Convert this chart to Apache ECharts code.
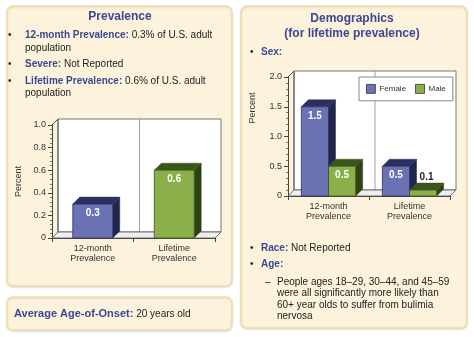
<!DOCTYPE html>
<html><head><meta charset="utf-8">
<script src="https://cdn.jsdelivr.net/npm/echarts@6/dist/echarts.min.js"></script>
<style>html,body{margin:0;padding:0;background:#fff}#c{width:474px;height:337px}</style>
</head><body><div id="c"></div>
<script>
// ---- data ----
const prevCategories = ['12-month\nPrevalence', 'Lifetime\nPrevalence'];
const prevValues = [0.3, 0.6];
const prevYTicks = ['0', '0.2', '0.4', '0.6', '0.8', '1.0'];

const sexCategories = ['12-month\nPrevalence', 'Lifetime\nPrevalence'];
const sexSeriesNames = ['Female', 'Male'];
const femaleValues = [1.5, 0.5];
const maleValues = [0.5, 0.1];
const sexYTicks = ['0', '0.5', '1.0', '1.5', '2.0'];

// ---- styles ----
const FONT = '"Liberation Sans", Arial, Helvetica, sans-serif';
const TITLE_C = '#3c4791';
const TEXT_C = '#222';
const BLUE = {front: '#6a72b3', top: '#2c305f', side: '#22264c'};
const GREEN = {front: '#8bb04b', top: '#3b561c', side: '#2c4314'};

function fmt(v) { return v === 0 ? '0' : v.toFixed(1); }

function frameRender(params, api) {
  const cs = params.coordSys;
  const x = cs.x, y = cs.y, w = cs.width, h = cs.height, D = 6;
  return {type: 'group', children: [
    {type: 'rect', shape: {x: x + D, y: y - D, width: w, height: h}, style: {fill: '#fff', stroke: '#555', lineWidth: 0.8}},
    {type: 'line', shape: {x1: x + D, y1: y - D, x2: x + D, y2: y + h - D}, style: {stroke: '#8a8a8a', lineWidth: 2}},
    {type: 'line', shape: {x1: x, y1: y, x2: x + D, y2: y - D}, style: {stroke: '#444', lineWidth: 1}},
    {type: 'line', shape: {x1: x + D + w / 2, y1: y - D, x2: x + D + w / 2, y2: y + h - D}, style: {stroke: '#888', lineWidth: 0.8}},
    {type: 'polygon', shape: {points: [[x, y + h], [x + D, y + h - D], [x + w + D, y + h - D], [x + w, y + h]]}, style: {fill: '#eeeeee', stroke: '#555', lineWidth: 0.8}}
  ]};
}

function makeBarRender(ratio, offsetFactor, colors) {
  return function (params, api) {
    const cat = api.value(0), val = api.value(1);
    const top = api.coord([cat, val]);
    const base = api.coord([cat, 0]);
    const band = api.size([1, 0])[0];
    const bw = band * ratio;
    const cx = top[0] + offsetFactor * bw;
    const x0 = cx - bw / 2, x1 = cx + bw / 2, yT = top[1], yB = base[1];
    const D = 7;
    const inside = yB - yT > 20;
    return {type: 'group', children: [
      {type: 'polygon', shape: {points: [[x1, yT], [x1 + D, yT - D], [x1 + D, yB - D], [x1, yB]]}, style: {fill: colors.side, stroke: colors.side, lineWidth: 0.5}},
      {type: 'polygon', shape: {points: [[x0, yT], [x0 + D, yT - D], [x1 + D, yT - D], [x1, yT]]}, style: {fill: colors.top, stroke: colors.top, lineWidth: 0.5}},
      {type: 'rect', shape: {x: x0, y: yT, width: bw, height: yB - yT}, style: {fill: colors.front, stroke: colors.top, lineWidth: 0.8}},
      {type: 'text', style: {text: fmt(val), x: cx + (inside ? 0 : D / 2), y: inside ? yT + 9 : yT - 13,
        align: 'center', verticalAlign: 'middle', fill: inside ? '#fff' : '#222',
        fontSize: 10, fontWeight: 'bold', fontFamily: FONT}}
    ]};
  };
}

function yAxisCfg(grid, max, interval, ticks, name) {
  return {
    type: 'value', gridIndex: grid, min: 0, max: max, interval: interval,
    name: name, nameLocation: 'middle', nameGap: 29, nameRotate: 90,
    nameTextStyle: {fontSize: 9, color: '#333', fontFamily: FONT},
    axisLine: {show: true, lineStyle: {color: '#444', width: 1}},
    axisTick: {show: true, length: 4, lineStyle: {color: '#444'}},
    minorTick: {show: true, splitNumber: 5, length: 2, lineStyle: {color: '#777'}},
    splitLine: {show: false},
    axisLabel: {fontSize: 9, color: '#333', fontFamily: FONT, margin: 6,
      formatter: function (v) { return ticks[Math.round(v / interval)]; }}
  };
}

function xAxisCfg(grid, cats) {
  return {
    type: 'category', gridIndex: grid, data: cats,
    axisLine: {show: true, lineStyle: {color: '#444', width: 1}},
    axisTick: {show: true, length: 4, alignWithLabel: false, lineStyle: {color: '#444'}},
    axisLabel: {fontSize: 9, color: '#333', fontFamily: FONT, lineHeight: 10, margin: 6}
  };
}

function txt(x, y, text, extra) {
  return {type: 'text', z: 10, style: Object.assign({
    text: text, x: x, y: y, verticalAlign: 'middle', align: 'left',
    fontSize: 10, fontFamily: FONT, fill: TEXT_C,
    rich: {b: {fontWeight: 'bold', fill: TITLE_C, fontSize: 10, fontFamily: FONT}}
  }, extra || {})};
}

function panel(x, y, w, h) {
  return {type: 'rect', z: 0, shape: {x: x, y: y, width: w, height: h, r: 6},
    style: {fill: '#fdf3dc', stroke: '#f4dca6', lineWidth: 1.5,
      shadowBlur: 2, shadowColor: 'rgba(0,0,0,0.12)', shadowOffsetY: 1}};
}

const graphics = [
  panel(7, 6, 225, 280),
  panel(7, 297, 225, 33),
  panel(241, 6, 226, 322),
  txt(120, 17, 'Prevalence', {align: 'center', fontSize: 12, fontWeight: 'bold', fill: TITLE_C}),
  txt(8, 35, '•'), txt(25, 35, '{b|12-month Prevalence:} 0.3% of U.S. adult'),
  txt(25, 48, 'population'),
  txt(8, 64, '•'), txt(25, 64, '{b|Severe:} Not Reported'),
  txt(8, 81, '•'), txt(25, 81, '{b|Lifetime Prevalence:} 0.6% of U.S. adult'),
  txt(25, 93, 'population'),
  txt(14, 314, '{b|Average Age-of-Onset:} 20 years old', {rich: {b: {fontWeight: 'bold', fill: TITLE_C, fontSize: 11, fontFamily: FONT}}}),
  txt(352, 19, 'Demographics', {align: 'center', fontSize: 12, fontWeight: 'bold', fill: TITLE_C}),
  txt(352, 34, '(for lifetime prevalence)', {align: 'center', fontSize: 12, fontWeight: 'bold', fill: TITLE_C}),
  txt(250, 52, '•'), txt(261, 52, '{b|Sex:}'),
  {type: 'text', z: 10, x: 253, y: 108, rotation: Math.PI / 2,
    style: {text: 'Percent', x: 0, y: 0, align: 'center', verticalAlign: 'middle', fontSize: 9, fill: '#333', fontFamily: FONT}},
  txt(250, 248, '•'), txt(261, 248, '{b|Race:} Not Reported'),
  txt(250, 264, '•'), txt(261, 264, '{b|Age:}'),
  txt(265, 282, '–'),
  txt(277, 282, 'People ages 18–29, 30–44, and 45–59'),
  txt(277, 293.5, 'were all significantly more likely than'),
  txt(277, 305, '60+ year olds to suffer from bulimia'),
  txt(277, 316.5, 'nervosa')
];

const chart = echarts.init(document.getElementById('c'), null, {renderer: 'canvas'});
chart.setOption({
  animation: false,
  backgroundColor: '#fff',
  graphic: graphics,
  grid: [
    {left: 52, top: 125, width: 163, height: 113},
    {left: 288, top: 77, width: 162, height: 119}
  ],
  xAxis: [xAxisCfg(0, prevCategories), xAxisCfg(1, sexCategories)],
  yAxis: [yAxisCfg(0, 1, 0.2, prevYTicks, 'Percent'), yAxisCfg(1, 2, 0.5, sexYTicks, '')],
  legend: {
    data: sexSeriesNames, left: 359, top: 77, orient: 'horizontal',
    padding: [7, 7], itemGap: 9, itemWidth: 9, itemHeight: 9, icon: 'rect',
    backgroundColor: '#fff', borderColor: '#888', borderWidth: 1, borderRadius: 0,
    itemStyle: {borderColor: '#333', borderWidth: 0.8},
    textStyle: {fontSize: 8, color: '#333', fontFamily: FONT, padding: [0, 0, 0, -1]},
    selectedMode: false
  },
  series: [
    {type: 'custom', xAxisIndex: 0, yAxisIndex: 0, z: 1, silent: true, data: [[0, 0]], renderItem: frameRender},
    {type: 'custom', xAxisIndex: 0, yAxisIndex: 0, z: 3, silent: true,
      data: prevValues.map((v, i) => [i, v]),
      renderItem: function (params, api) {
        const colors = api.value(0) === 0 ? BLUE : GREEN;
        return makeBarRender(0.49, 0, colors)(params, api);
      }},
    {type: 'custom', xAxisIndex: 1, yAxisIndex: 1, z: 1, silent: true, data: [[0, 0]], renderItem: frameRender},
    {type: 'custom', name: sexSeriesNames[0], xAxisIndex: 1, yAxisIndex: 1, z: 3, silent: true,
      itemStyle: {color: BLUE.front},
      data: femaleValues.map((v, i) => [i, v]), renderItem: makeBarRender(0.335, -0.5, BLUE)},
    {type: 'custom', name: sexSeriesNames[1], xAxisIndex: 1, yAxisIndex: 1, z: 4, silent: true,
      itemStyle: {color: GREEN.front},
      data: maleValues.map((v, i) => [i, v]), renderItem: makeBarRender(0.335, 0.5, GREEN)}
  ]
});
</script></body></html>
